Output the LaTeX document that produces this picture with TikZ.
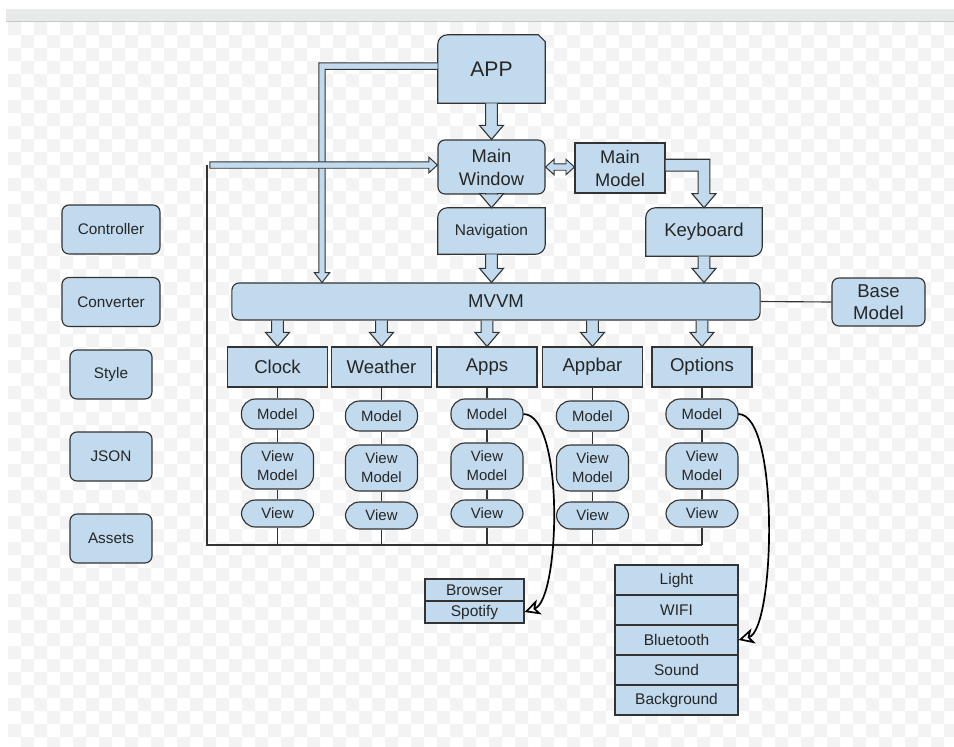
\documentclass[tikz,border=0pt]{standalone}
\usepackage{fontspec}
\setmainfont{Liberation Sans}
\usetikzlibrary{arrows.meta,backgrounds,calc}

\definecolor{boxblue}{RGB}{193,218,238}
\definecolor{edge}{RGB}{51,51,51}
\definecolor{checker}{RGB}{243,243,243}
\definecolor{topbar}{RGB}{232,233,233}

% hollow block arrow pointing down, from #1 to #2
\newcommand\bigdown[2]{%
	\filldraw[boxbase] ($(#1)+(-4.2pt,0pt)$) -- ($(#2)+(-4.2pt,10pt)$) -- ($(#2)+(-8.5pt,10pt)$)
		-- (#2) -- ($(#2)+(8.5pt,10pt)$) -- ($(#2)+(4.2pt,10pt)$) -- ($(#1)+(4.2pt,0pt)$);}

\begin{document}
\begin{tikzpicture}[
			x=0.025cm, y=-0.025cm,
			every node/.style = {text=black!85, inner sep=0pt},
			boxbase/.style    = {draw=edge, fill=boxblue, line width=0.8pt},
			box/.style        = {boxbase, rounded corners=5pt, align=center},
			sqbox/.style      = {boxbase, align=center},
			pill/.style       = {boxbase, rounded corners=10pt, align=center, minimum width=1.8cm,
			                     font=\fontsize{10.6}{13.5}\selectfont},
			grp/.style        = {sqbox, minimum width=2.5cm, minimum height=1cm,
			                     font=\fontsize{13.2}{15}\selectfont},
			side/.style       = {box, minimum height=1.225cm, font=\fontsize{10.9}{13}\selectfont},
			item/.style       = {sqbox, font=\fontsize{11}{13}\selectfont},
			link/.style       = {draw=edge, line width=0.8pt},
			slim/.style       = {boxbase, line width=0.7pt},
			curl/.style       = {draw=black, line width=1.2pt,
			                     -{Stealth[length=11pt,width=11pt,inset=3pt,fill=white]}}
			]
			%--- page ---
			\useasboundingbox (0,0) rectangle (954,746);
			\begin{scope}[on background layer]
				\fill[white] (0,0) rectangle (954,746);
				\fill[topbar] (6,9) rectangle (954,21);
				\draw[black!22] (6,21.5) -- (954,21.5);
				\begin{scope}
					\clip (8,22) rectangle (954,746);
					\foreach \i in {0,...,36}
						\foreach \j in {0,...,28}
							\fill[checker] (8+26*\i,22+26*\j) rectangle +(13,13)
							               (21+26*\i,35+26*\j) rectangle +(13,13);
				\end{scope}
			\end{scope}
			
			%--- nodes and their positions ---
			\node[minimum width=2.675cm, minimum height=1.7cm,
			      font=\fontsize{15}{17}\selectfont] (app) at (491.5,69) {APP};
			\node[box, minimum width=2.675cm, minimum height=1.35cm,
			      font=\fontsize{13}{16.3}\selectfont] (mainwin) at (491.5,167) {Main\\Window};
			\node[sqbox, minimum width=2.25cm, minimum height=1.25cm,
			      font=\fontsize{13}{16.3}\selectfont] (mainmodel) at (620,168) {Main\\Model};
			
			\node[minimum width=2.675cm, minimum height=1.15cm,
			      font=\fontsize{11}{13}\selectfont] (nav) at (491.5,231) {Navigation};
			\node[minimum width=2.9cm, minimum height=1.2cm,
			      font=\fontsize{13.2}{15}\selectfont] (kb) at (704,232) {Keyboard};
			
			\node[box, minimum width=13.2cm, minimum height=0.925cm,
			      font=\fontsize{13.2}{15}\selectfont] (mvvm) at (496,301.5) {MVVM};
			\node[box, minimum width=2.325cm, minimum height=1.2cm,
			      font=\fontsize{13.2}{15.6}\selectfont] (basemodel) at (878.5,302) {Base\\Model};
			
			\foreach \n/\x/\t/\d in {clock/277.5/Clock/0, weather/381.5/Weather/2,
			                         apps/487/Apps/0, appbar/592.5/Appbar/2, options/702/Options/0}{
				\node[grp] (\n) at (\x,367) {\t};
				\node[pill, minimum height=0.75cm]  (\n-m)  at (\x,414+\d)   {Model};
				\node[pill, minimum height=1.15cm]  (\n-vm) at (\x,466+\d)   {View\\Model};
				\node[pill, minimum height=0.675cm] (\n-v)  at (\x,513.5+\d) {View};
			}
			
			\node[side, minimum width=2.45cm] (controller) at (111,229.5) {Controller};
			\node[side, minimum width=2.45cm] (converter)  at (111,302)   {Converter};
			\node[side, minimum width=2.05cm] (style)      at (111,374.5) {Style};
			\node[side, minimum width=2.05cm] (json)       at (111,456.5) {JSON};
			\node[side, minimum width=2.05cm] (assets)     at (111,538.5) {Assets};
			
			\node[item, minimum width=2.475cm, minimum height=0.55cm] (browser) at (474.5,590) {Browser};
			\node[item, minimum width=2.475cm, minimum height=0.55cm] (spotify) at (474.5,612) {Spotify};
			
			\node[item, minimum width=3.075cm, minimum height=0.75cm] (light)      at (676.5,580) {Light};
			\node[item, minimum width=3.075cm, minimum height=0.75cm] (wifi)       at (676.5,610) {WIFI};
			\node[item, minimum width=3.075cm, minimum height=0.75cm] (bluetooth)  at (676.5,640) {Bluetooth};
			\node[item, minimum width=3.075cm, minimum height=0.75cm] (sound)      at (676.5,670) {Sound};
			\node[item, minimum width=3.075cm, minimum height=0.75cm] (background) at (676.5,700) {Background};
			
			%--- helper points ---
			\coordinate (drop)   at (322,0);
			\coordinate (ret)    at (207,165);
			\coordinate (bot)    at (207,545);
			\coordinate (appout) at ([yshift=2pt]app.west);
			\coordinate (appbend) at (drop |- appout);
			\coordinate (mvvmin) at (drop |- mvvm.north);
			\coordinate (winin)  at (ret -| mainwin.west);
			\coordinate (mwr)    at (mainwin.east);
			\coordinate (mml)    at (mainmodel.west |- mainwin.east);
			\coordinate (mmout)  at ([yshift=2pt]mainmodel.east);
			\coordinate (kbbend) at (kb.north |- mmout);
			\coordinate (navin)  at (nav.south |- mvvm.north);
			\coordinate (kbin)   at (kb.south |- mvvm.north);
			
			%--- outlines with odd corners ---
			\begin{scope}[on background layer]
				\filldraw[boxbase] (app.south west) -- ([yshift=-7pt]app.north west)
					arc[start angle=180, end angle=90, radius=7pt] -- ([xshift=-5pt]app.north east)
					-- ([yshift=-5pt]app.north east) -- (app.south east) -- cycle;
				\filldraw[boxbase] (nav.south west) -- ([yshift=-7pt]nav.north west)
					arc[start angle=180, end angle=90, radius=7pt] -- (nav.north east)
					-- ([yshift=7pt]nav.south east) arc[start angle=0, end angle=-90, radius=7pt] -- cycle;
				\filldraw[boxbase] (kb.south west) -- ([yshift=-7pt]kb.north west)
					arc[start angle=180, end angle=90, radius=7pt] -- (kb.north east)
					-- ([yshift=7pt]kb.south east) arc[start angle=0, end angle=-90, radius=7pt] -- cycle;
			\end{scope}
			
			%--- connectors ---
			\bigdown{app.south}{mainwin.north}
			\bigdown{mainwin.south}{nav.north}
			\bigdown{nav.south}{navin}
			\bigdown{kb.south}{kbin}
			\filldraw[boxbase] ($(mmout)+(0pt,4.2pt)$) -- ($(kbbend)+(4.2pt,4.2pt)$)
				-- ($(kb.north)+(4.2pt,10pt)$) -- ($(kb.north)+(8.5pt,10pt)$) -- (kb.north)
				-- ($(kb.north)+(-8.5pt,10pt)$) -- ($(kb.north)+(-4.2pt,10pt)$)
				-- ($(kbbend)+(-4.2pt,-4.2pt)$) -- ($(mmout)+(0pt,-4.2pt)$);
			
			\filldraw[slim] (mwr) -- ($(mwr)+(6pt,5.5pt)$) -- ($(mwr)+(6pt,2.3pt)$)
				-- ($(mml)+(-6pt,2.3pt)$) -- ($(mml)+(-6pt,5.5pt)$) -- (mml)
				-- ($(mml)+(-6pt,-5.5pt)$) -- ($(mml)+(-6pt,-2.3pt)$)
				-- ($(mwr)+(6pt,-2.3pt)$) -- ($(mwr)+(6pt,-5.5pt)$) -- cycle;
			\filldraw[slim] ($(appout)+(0pt,2.3pt)$) -- ($(appbend)+(-2.3pt,2.3pt)$)
				-- ($(mvvmin)+(-2.3pt,7pt)$) -- ($(mvvmin)+(-5.5pt,7pt)$) -- (mvvmin)
				-- ($(mvvmin)+(5.5pt,7pt)$) -- ($(mvvmin)+(2.3pt,7pt)$)
				-- ($(appbend)+(2.3pt,-2.3pt)$) -- ($(appout)+(0pt,-2.3pt)$);
			\draw[link] (mvvm.east) -- (basemodel.west);
			
			\foreach \n in {clock,weather,apps,appbar,options}{
				\coordinate (\n-in) at (mvvm.south -| \n.north);
				\bigdown{\n-in}{\n.north}
				\draw[link] (\n.south) -- (\n-m.north) (\n-m.south) -- (\n-vm.north)
				            (\n-vm.south) -- (\n-v.north) (\n-v.south) -- (\n-v.south |- bot);
			}
			\draw[link] (options-v.south |- bot) -- (bot) -- (ret);
			\filldraw[slim] ($(ret)+(2pt,2.3pt)$) -- ($(winin)+(-6pt,2.3pt)$) -- ($(winin)+(-6pt,5.5pt)$)
				-- (winin) -- ($(winin)+(-6pt,-5.5pt)$) -- ($(winin)+(-6pt,-2.3pt)$)
				-- ($(ret)+(2pt,-2.3pt)$) -- cycle;
			
			\draw[curl] (apps-m.east) .. controls (565,415) and (560,600) .. (spotify.east);
			\draw[curl] (options-m.east) .. controls (780,415) and (775,630) .. (bluetooth.east);
		\end{tikzpicture}
\end{document}
